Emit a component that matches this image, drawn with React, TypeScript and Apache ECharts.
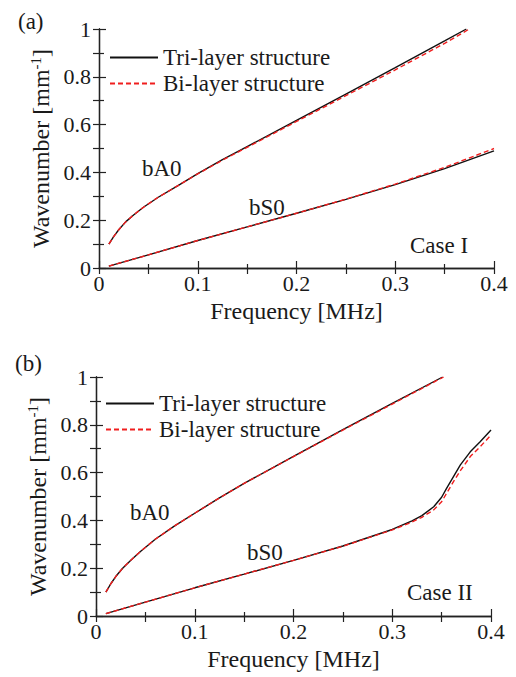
import React, { useEffect, useRef } from "react";
import * as echarts from "echarts";

// Case I: frequency (MHz) and wavenumber (1/mm)
const A_BA0_TRI_F = [0.01, 0.015, 0.02, 0.027, 0.035, 0.045, 0.06, 0.08, 0.1, 0.125, 0.15, 0.2, 0.25, 0.3, 0.35, 0.372];
const A_BA0_TRI_K = [0.1, 0.132, 0.16, 0.193, 0.222, 0.254, 0.296, 0.345, 0.395, 0.453, 0.508, 0.618, 0.728, 0.838, 0.95, 1.0];
const A_BA0_BI_F = [0.01, 0.015, 0.02, 0.027, 0.035, 0.045, 0.06, 0.08, 0.1, 0.125, 0.15, 0.2, 0.25, 0.3, 0.35, 0.375];
const A_BA0_BI_K = [0.1, 0.132, 0.16, 0.193, 0.222, 0.254, 0.296, 0.345, 0.394, 0.451, 0.505, 0.613, 0.721, 0.829, 0.94, 1.0];
const A_BS0_TRI_F = [0.01, 0.05, 0.1, 0.15, 0.2, 0.25, 0.3, 0.35, 0.4];
const A_BS0_TRI_K = [0.008, 0.055, 0.115, 0.172, 0.229, 0.287, 0.349, 0.416, 0.49];
const A_BS0_BI_F = [0.01, 0.05, 0.1, 0.15, 0.2, 0.25, 0.3, 0.35, 0.4];
const A_BS0_BI_K = [0.008, 0.055, 0.115, 0.172, 0.229, 0.288, 0.351, 0.421, 0.5];

// Case II
const B_BA0_TRI_F = [0.01, 0.015, 0.02, 0.027, 0.035, 0.045, 0.06, 0.08, 0.1, 0.125, 0.15, 0.2, 0.25, 0.3, 0.351];
const B_BA0_TRI_K = [0.1, 0.135, 0.165, 0.2, 0.232, 0.27, 0.321, 0.378, 0.43, 0.494, 0.555, 0.668, 0.78, 0.89, 1.0];
const B_BA0_BI_F = [0.01, 0.015, 0.02, 0.027, 0.035, 0.045, 0.06, 0.08, 0.1, 0.125, 0.15, 0.2, 0.25, 0.3, 0.352];
const B_BA0_BI_K = [0.1, 0.135, 0.165, 0.2, 0.232, 0.27, 0.321, 0.378, 0.43, 0.494, 0.555, 0.667, 0.778, 0.887, 1.0];
const B_BS0_TRI_F = [0.01, 0.05, 0.1, 0.15, 0.2, 0.25, 0.3, 0.32, 0.33, 0.342, 0.35, 0.355, 0.362, 0.369, 0.379, 0.389, 0.4];
const B_BS0_TRI_K = [0.01, 0.058, 0.118, 0.175, 0.233, 0.293, 0.362, 0.398, 0.42, 0.457, 0.497, 0.534, 0.583, 0.632, 0.687, 0.729, 0.778];
const B_BS0_BI_F = [0.01, 0.05, 0.1, 0.15, 0.2, 0.25, 0.3, 0.32, 0.33, 0.342, 0.35, 0.355, 0.362, 0.369, 0.379, 0.389, 0.4];
const B_BS0_BI_K = [0.01, 0.058, 0.118, 0.175, 0.233, 0.292, 0.36, 0.393, 0.413, 0.444, 0.478, 0.513, 0.562, 0.608, 0.667, 0.708, 0.757];

const SERIES_NAMES = ["Tri-layer structure", "Bi-layer structure"];
const X_NAME = "Frequency [MHz]";
const Y_NAME = "Wavenumber [mm{sup|-1}]";
const PANEL_TAGS = ["(a)", "(b)"];
const CASE_TAGS = ["Case I", "Case II"];
const MODE_TAGS = ["bA0", "bS0"];

const FONT = "Liberation Serif";
const INK = "#1a1a1a";
const RED = "#f01e1e";

const pairs = (f: number[], k: number[]) => f.map((x, i) => [x, k[i]]);

function axesFor(gridIndex: number) {
  const line = { lineStyle: { color: "#222", width: 1.3 } };
  const tickStyle = { color: "#222", width: 1.2 };
  return {
    x: [
      {
        type: "value", gridIndex, position: "bottom", min: 0, max: 0.4, interval: 0.1,
        axisLine: line,
        axisTick: { inside: true, length: 7, lineStyle: tickStyle },
        minorTick: { show: true, splitNumber: 2, length: 4, lineStyle: tickStyle },
        splitLine: { show: false },
        axisLabel: { fontFamily: FONT, fontSize: 22, color: INK, margin: 4 },
        name: X_NAME, nameLocation: "middle", nameGap: 31,
        nameTextStyle: { fontFamily: FONT, fontSize: 24, color: INK },
      },
      {
        type: "value", gridIndex, position: "top", min: 0, max: 0.4, interval: 0.05,
        axisLine: line,
        axisTick: { inside: true, length: 6, lineStyle: tickStyle },
        axisLabel: { show: false },
        splitLine: { show: false },
      },
    ],
    y: [
      {
        type: "value", gridIndex, position: "left", min: 0, max: 1, interval: 0.2,
        axisLine: { show: true, ...line },
        axisTick: { show: true, inside: true, length: 7, lineStyle: tickStyle },
        minorTick: { show: true, splitNumber: 2, length: 5, lineStyle: tickStyle },
        splitLine: { show: false },
        axisLabel: { fontFamily: FONT, fontSize: 22, color: INK, margin: 8 },
        name: Y_NAME, nameLocation: "middle", nameGap: 44,
        nameTextStyle: {
          fontFamily: FONT, fontSize: 24, color: INK,
          rich: { sup: { fontFamily: FONT, fontSize: 15, color: INK, verticalAlign: "top", padding: [0, 0, 10, 0] } },
        },
      },
      {
        type: "value", gridIndex, position: "right", min: 0, max: 1, interval: 0.1,
        axisLine: { show: true, ...line },
        axisTick: { show: true, inside: true, length: 6, lineStyle: tickStyle },
        axisLabel: { show: false },
        splitLine: { show: false },
      },
    ],
  };
}

function curve(name: string, panel: number, data: number[][], dashed: boolean) {
  return {
    type: "line", name, xAxisIndex: panel * 2, yAxisIndex: panel * 2,
    data, showSymbol: false, symbol: "none", smooth: false,
    lineStyle: dashed ? { color: RED, width: 1.4, type: [5, 3] } : { color: "#111", width: 1.4 },
    itemStyle: { color: dashed ? RED : "#111" },
    z: dashed ? 3 : 2,
  };
}

function label(text: string, x: number, y: number) {
  return {
    type: "text", x, y,
    style: { text, fontFamily: FONT, fontSize: 23, fill: INK, align: "left", verticalAlign: "middle" },
  };
}

export default function App() {
  const ref = useRef<HTMLDivElement>(null);
  useEffect(() => {
    if (!ref.current) return;
    const chart = echarts.init(ref.current, null, { renderer: "svg" });
    const a0 = axesFor(0);
    const a1 = axesFor(1);
    const legend = (left: number, top: number) => ({
      data: SERIES_NAMES, orient: "vertical", left, top, padding: 0,
      itemWidth: 48, itemHeight: 12, itemGap: 3, selectedMode: false,
      itemStyle: { opacity: 0 },
      textStyle: { fontFamily: FONT, fontSize: 23, color: INK, lineHeight: 21 },
    });
    chart.setOption({
      animation: false,
      backgroundColor: "#fff",
      grid: [
        { left: 99, top: 29, width: 395, height: 239 },
        { left: 96, top: 377, width: 395, height: 239 },
      ],
      xAxis: [...a0.x, ...a1.x],
      yAxis: [...a0.y, ...a1.y],
      legend: [legend(109, 46), legend(105, 392)],
      series: [
        curve(SERIES_NAMES[0], 0, pairs(A_BA0_TRI_F, A_BA0_TRI_K), false),
        curve(SERIES_NAMES[0], 0, pairs(A_BS0_TRI_F, A_BS0_TRI_K), false),
        curve(SERIES_NAMES[1], 0, pairs(A_BA0_BI_F, A_BA0_BI_K), true),
        curve(SERIES_NAMES[1], 0, pairs(A_BS0_BI_F, A_BS0_BI_K), true),
        curve(SERIES_NAMES[0], 1, pairs(B_BA0_TRI_F, B_BA0_TRI_K), false),
        curve(SERIES_NAMES[0], 1, pairs(B_BS0_TRI_F, B_BS0_TRI_K), false),
        curve(SERIES_NAMES[1], 1, pairs(B_BA0_BI_F, B_BA0_BI_K), true),
        curve(SERIES_NAMES[1], 1, pairs(B_BS0_BI_F, B_BS0_BI_K), true),
      ],
      graphic: [
        label(PANEL_TAGS[0], 18, 21),
        label(PANEL_TAGS[1], 15, 363),
        label(MODE_TAGS[0], 142, 168),
        label(MODE_TAGS[1], 249, 207),
        label(CASE_TAGS[0], 410, 245),
        label(MODE_TAGS[0], 130, 512),
        label(MODE_TAGS[1], 247, 552),
        label(CASE_TAGS[1], 407, 592),
      ],
    });
    return () => chart.dispose();
  }, []);
  return (
    <div
      ref={ref}
      style={{ position: "absolute", left: 0, top: 0, width: 516, height: 677 }}
    />
  );
}
